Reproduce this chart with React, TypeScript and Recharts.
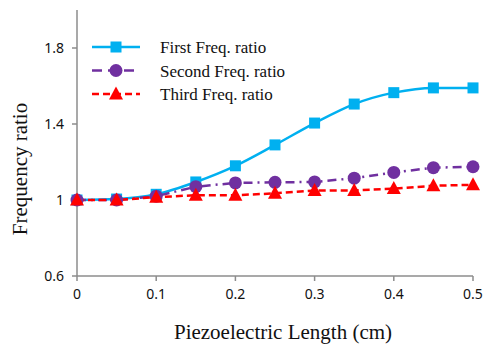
import { LineChart, Line, XAxis, YAxis } from "recharts";

const lengths = [0, 0.05, 0.1, 0.15, 0.2, 0.25, 0.3, 0.35, 0.4, 0.45, 0.5];
const firstRatio = [1.0, 1.005, 1.03, 1.095, 1.18, 1.29, 1.405, 1.505, 1.565, 1.59, 1.59];
const secondRatio = [1.0, 1.0, 1.02, 1.07, 1.09, 1.093, 1.095, 1.115, 1.145, 1.17, 1.175];
const thirdRatio = [1.0, 1.0, 1.015, 1.025, 1.025, 1.035, 1.05, 1.05, 1.06, 1.075, 1.08];

const xTicks = [0, 0.1, 0.2, 0.3, 0.4, 0.5];
const yTicks = [0.6, 1, 1.4, 1.8];

const data = lengths.map((x, i) => ({
  x,
  first: firstRatio[i],
  second: secondRatio[i],
  third: thirdRatio[i],
}));

const BLUE = "#00B0F0";
const PURPLE = "#7030A0";
const RED = "#FF0000";
const AXIS = "#8c8c8c";
const SERIF = "'Liberation Serif', 'Times New Roman', serif";

const Square = ({ cx, cy, fill }: any) => (
  <rect x={cx - 5.5} y={cy - 5.5} width={11} height={11} fill={fill} />
);
const Circle = ({ cx, cy, fill }: any) => <circle cx={cx} cy={cy} r={6.5} fill={fill} />;
const Triangle = ({ cx, cy, fill }: any) => (
  <polygon points={`${cx},${cy - 7.5} ${cx + 7},${cy + 5.5} ${cx - 7},${cy + 5.5}`} fill={fill} />
);

const series = [
  { key: "first", name: "First Freq. ratio", color: BLUE, dash: undefined, legendDash: undefined, Marker: Square },
  { key: "second", name: "Second Freq. ratio", color: PURPLE, dash: "9 5 2 5", legendDash: "10 6", Marker: Circle },
  { key: "third", name: "Third Freq. ratio", color: RED, dash: "7 4", legendDash: "7 4", Marker: Triangle },
];

// legend drawn as an overlay so it doesn't shrink the plot area
const LegendBox = () => (
  <svg width={230} height={72} style={{ position: "absolute", left: 90, top: 35 }}>
    {series.map((s, i) => {
      const y = 12 + i * 23.5;
      return (
        <g key={s.key}>
          <line x1={2} x2={50} y1={y} y2={y} stroke={s.color} strokeWidth={2.5} strokeDasharray={s.legendDash} />
          <s.Marker cx={26} cy={y} fill={s.color} />
          <text x={70} y={y + 6} fontFamily={SERIF} fontSize={17} fill="#111">
            {s.name}
          </text>
        </g>
      );
    })}
  </svg>
);

const tickStyle = { fontFamily: "'Noto Sans', sans-serif", fontSize: 14, fill: "#111" };

export default function App() {
  return (
    <div style={{ position: "absolute", left: 0, top: 0, width: 483, height: 347, background: "#fff" }}>
      <LineChart width={483} height={347} data={data} margin={{ top: 10, right: 10, left: 0, bottom: 0 }}>
        <XAxis
          dataKey="x"
          type="number"
          domain={[0, 0.5]}
          ticks={xTicks}
          tickFormatter={(v) => String(v)}
          stroke={AXIS}
          strokeWidth={1.5}
          tickSize={5}
          tick={tickStyle}
          tickMargin={8}
          height={71}
          label={({ viewBox }: any) => (
            <text
              x={viewBox.x + viewBox.width / 2 + 8}
              y={viewBox.y + 63}
              textAnchor="middle"
              fontFamily={SERIF}
              fontSize={21}
              fill="#111"
            >
              Piezoelectric Length (cm)
            </text>
          )}
        />
        <XAxis xAxisId="top" orientation="top" dataKey="x" type="number" domain={[0, 0.5]} tick={false} tickLine={false} height={0} stroke={AXIS} strokeWidth={1.5} />
        <YAxis
          domain={[0.6, 2.0]}
          ticks={yTicks}
          tickFormatter={(v) => String(v)}
          stroke={AXIS}
          strokeWidth={1.5}
          tickSize={5}
          tick={tickStyle}
          tickMargin={8}
          width={77}
          label={({ viewBox }: any) => {
            const cx = 20;
            const cy = viewBox.y + viewBox.height / 2 + 26;
            return (
              <text
                x={cx}
                y={cy}
                transform={`rotate(-90 ${cx} ${cy})`}
                textAnchor="middle"
                dominantBaseline="central"
                fontFamily={SERIF}
                fontSize={21}
                fill="#111"
              >
                Frequency ratio
              </text>
            );
          }}
        />
        <YAxis yAxisId="right" orientation="right" domain={[0.6, 2.0]} tick={false} tickLine={false} width={0} stroke="#333" strokeWidth={1.5} />
        {series.map((s) => (
          <Line
            key={s.key}
            dataKey={s.key}
            name={s.name}
            type={s.key === "first" ? "monotone" : "linear"}
            stroke={s.color}
            strokeWidth={2.5}
            strokeDasharray={s.dash}
            isAnimationActive={false}
            dot={(p: any) => <s.Marker key={`${s.key}-${p.index}`} cx={p.cx} cy={p.cy} fill={s.color} />}
            activeDot={false}
          />
        ))}
      </LineChart>
      <LegendBox />
    </div>
  );
}
